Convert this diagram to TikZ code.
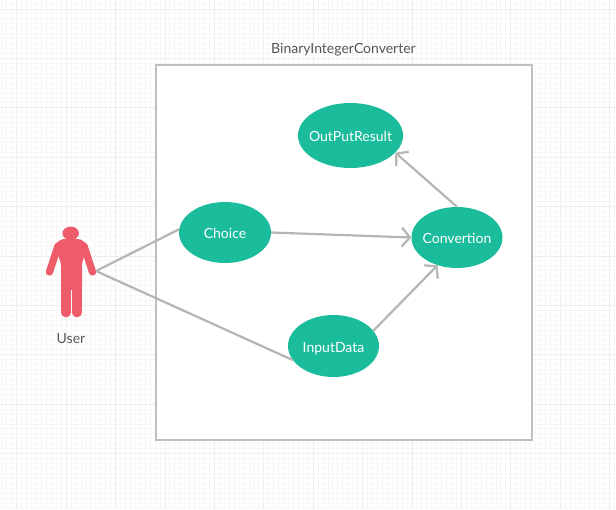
\documentclass[tikz,border=0pt]{standalone}
\usepackage{fontspec}
\setmainfont{Lato}
\usetikzlibrary{arrows.meta,shapes.geometric}
\definecolor{usecase}{HTML}{1ABC9C}
\definecolor{actorred}{HTML}{EE5C6C}
\definecolor{linegray}{HTML}{B5B5B5}
\definecolor{textgray}{HTML}{555555}
\tikzset{
    usecase/.style={ellipse,fill=usecase,inner sep=-20pt,text height=12pt,text depth=0pt,text=white,font=\fontsize{14}{16}\selectfont},
    link/.style={draw=linegray,line width=2.2pt},
    arrowlink/.style={link,-{Straight Barb[length=8pt,width=19pt,line width=2.2pt]}},
    caption/.style={text=textgray,text height=10pt,text depth=0pt,font=\fontsize{14}{16}\selectfont}
}
\begin{document}
\begin{tikzpicture}[x=1pt,y=-1pt]
    \useasboundingbox (0,0) rectangle (616,509);
    % grid
    \foreach \n in {0,...,125}
        \draw[black!3,line width=0.8pt] ({1.9+4.94*\n},0)--({1.9+4.94*\n},509);
    \foreach \n in {0,...,103}
        \draw[black!3,line width=0.8pt] (0,{4+4.94*\n})--(616,{4+4.94*\n});
    \foreach \n in {0,...,12}
        \draw[black!7,line width=0.8pt] ({16.7+49.4*\n},0)--({16.7+49.4*\n},509);
    \foreach \n in {0,...,9}
        \draw[black!7,line width=0.8pt] (0,{9+49.4*\n})--(616,{9+49.4*\n});
    % system box
    \draw[fill=white,draw=black!25,line width=2pt] (156,64.5) rectangle (532,440);
    \node[caption] (title) at (343.5,48) {BinaryIntegerConverter};
    % use cases
    \node[usecase,minimum width=105pt,minimum height=65pt] (output) at (350.5,135.5) {OutPutResult};
    \node[usecase,minimum width=92pt,minimum height=61pt] (choice) at (225,232.5) {Choice};
    \node[usecase,minimum width=91pt,minimum height=61pt] (convertion) at (457,237.5) {Convertion};
    \node[usecase,minimum width=91pt,minimum height=62pt] (inputdata) at (333.5,346) {InputData};
    % actor
    \fill[actorred] (70.7,233.3) ellipse (8.3 and 6.7);
    \fill[actorred,rounded corners=4pt] (54,247)--(60,239)--(82,239)--(88,247)--(82,262)--(82,290)--(61,290)--(61,262)--cycle;
    \draw[actorred,line width=7.3pt,line cap=round] (58,246)--(49.5,272);
    \draw[actorred,line width=7.3pt,line cap=round] (84,246)--(92.5,272);
    \draw[actorred,line width=9.5pt,line cap=round] (65.8,285)--(65.8,312.6);
    \draw[actorred,line width=9.5pt,line cap=round] (77,285)--(77,312.6);
    \coordinate (hand) at (96,271);
    \node[caption] (user) at (71,338) {User};
    % connectors
    \draw[link] (hand)--(choice.176);
    \draw[link] (hand)--(inputdata.199);
    \draw[arrowlink] (choice.east)--(convertion.west);
    \draw[arrowlink] (convertion.north)--(output.-21);
    \draw[arrowlink] (inputdata.21)--(convertion.-125);
\end{tikzpicture}
\end{document}
